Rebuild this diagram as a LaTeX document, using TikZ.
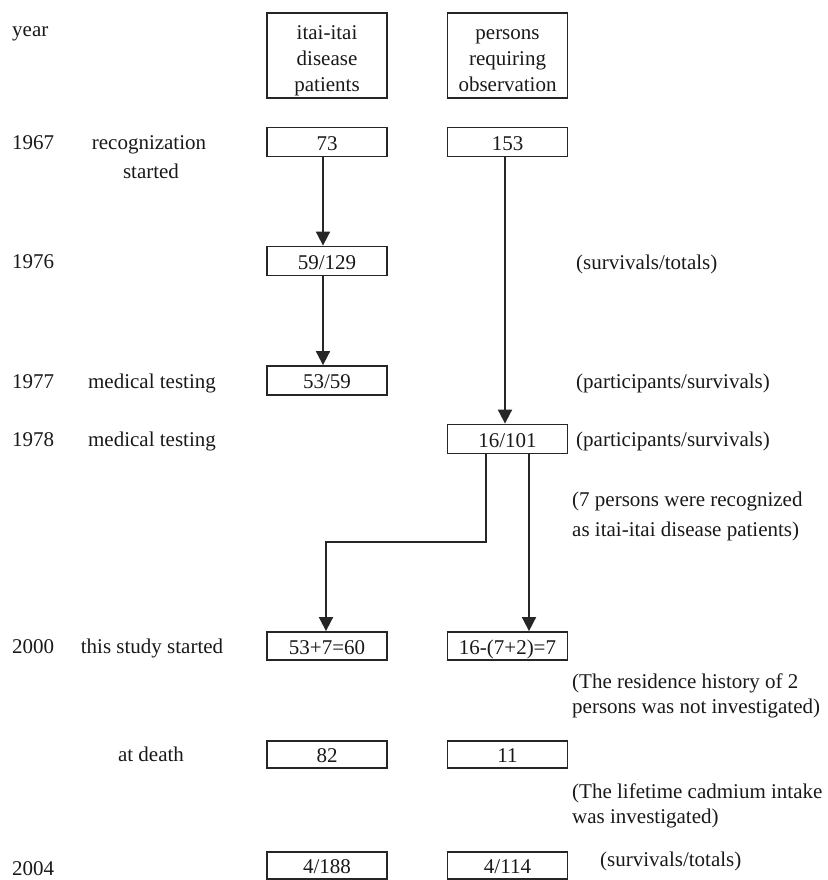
\documentclass[tikz,border=0pt]{standalone}
\usepackage{fontspec}
\setmainfont{Liberation Serif}
\usetikzlibrary{arrows.meta}
\begin{document}
\begin{tikzpicture}[x=1pt,y=-1pt,
  every node/.style={font=\fontsize{21}{26}\selectfont, text=black!90},
  numbox/.style={draw=black!85, line width=1.8pt, minimum width=120pt, minimum height=29pt, inner sep=0pt, text height=16pt, text depth=0pt},
  headbox/.style={draw=black!85, line width=1.8pt, minimum width=120pt, minimum height=85pt, inner sep=0pt},
  headtext/.style={align=center, yshift=-5pt, inner sep=0pt},
  yearlbl/.style={anchor=mid west, inner sep=0pt},
  eventlbl/.style={anchor=mid, inner sep=0pt},
  notelbl/.style={anchor=mid west, inner sep=0pt, align=left, font=\fontsize{21}{25}\selectfont},
  arr/.style={draw=black!85, line width=1.8pt, -{Triangle[width=14pt,length=14pt]}}]
\useasboundingbox (0,0) rectangle (827,880);

% header boxes
\node[headbox, label={[headtext]center:itai-itai\\disease\\patients}] (hA) at (327,55.5) {};
\node[headbox, label={[headtext]center:persons\\requiring\\observation}] (hB) at (507.5,55.5) {};

% number boxes
\node[numbox] (b73) at (327,142) {73};
\node[numbox] (b153) at (507.5,142) {153};
\node[numbox] (b59) at (327,261) {59/129};
\node[numbox] (b53) at (327,380.5) {53/59};
\node[numbox] (b16) at (507.5,439) {16/101};
\node[numbox, minimum height=28pt] (b60) at (327,646) {53+7=60};
\node[numbox, minimum height=28pt] (b7) at (507.5,646) {16-(7+2)=7};
\node[numbox, minimum height=27pt] (b82) at (327,754.5) {82};
\node[numbox, minimum height=27pt] (b11) at (507.5,754.5) {11};
\node[numbox, minimum height=27pt] (b188) at (327,865.5) {4/188};
\node[numbox, minimum height=27pt] (b114) at (507.5,865.5) {4/114};

% year labels
\node[yearlbl] (yYear) at (12,34) {year};
\node[yearlbl] (y67) at (12,147) {1967};
\node[yearlbl] (y76) at (12,266) {1976};
\node[yearlbl] (y77) at (12,386) {1977};
\node[yearlbl] (y78) at (12,444) {1978};
\node[yearlbl] (y00) at (12,651) {2000};
\node[yearlbl] (y04) at (12,873) {2004};

% event labels
\node[eventlbl] (eRec) at (149,147) {recognization};
\node[eventlbl] (eStart) at (151,176) {started};
\node[eventlbl] (eMed77) at (152,386) {medical testing};
\node[eventlbl] (eMed78) at (152,444) {medical testing};
\node[eventlbl] (eStudy) at (152,651) {this study started};
\node[eventlbl] (eDeath) at (151,759) {at death};

% notes (anchor on the last line)
\node[notelbl] (n1) at (576,267) {(survivals/totals)};
\node[notelbl] (n2) at (576,386) {(participants/survivals)};
\node[notelbl] (n3) at (576,444) {(participants/survivals)};
\node[notelbl] (n4) at (572,534) {(7 persons were recognized\\[5pt]as itai-itai disease patients)};
\node[notelbl] (n5) at (572,711) {(The residence history of 2\\persons was not investigated)};
\node[notelbl] (n6) at (572,821) {(The lifetime cadmium intake\\was investigated)};
\node[notelbl] (n7) at (600,864) {(survivals/totals)};

% connectors
\draw[arr] ([xshift=-4pt]b73.south) -- ([xshift=-4pt]b59.north);
\draw[arr] ([xshift=-4pt]b59.south) -- ([xshift=-4pt]b53.north);
\draw[arr] ([xshift=-2.5pt]b153.south) -- ([xshift=-2.5pt]b16.north);
\draw[arr] ([xshift=-21.5pt]b16.south) |- ([xshift=-1pt,yshift=89pt]b60.north) -- ([xshift=-1pt]b60.north);
\draw[arr] ([xshift=21.5pt]b16.south) -- ([xshift=21.5pt]b7.north);
\end{tikzpicture}
\end{document}
